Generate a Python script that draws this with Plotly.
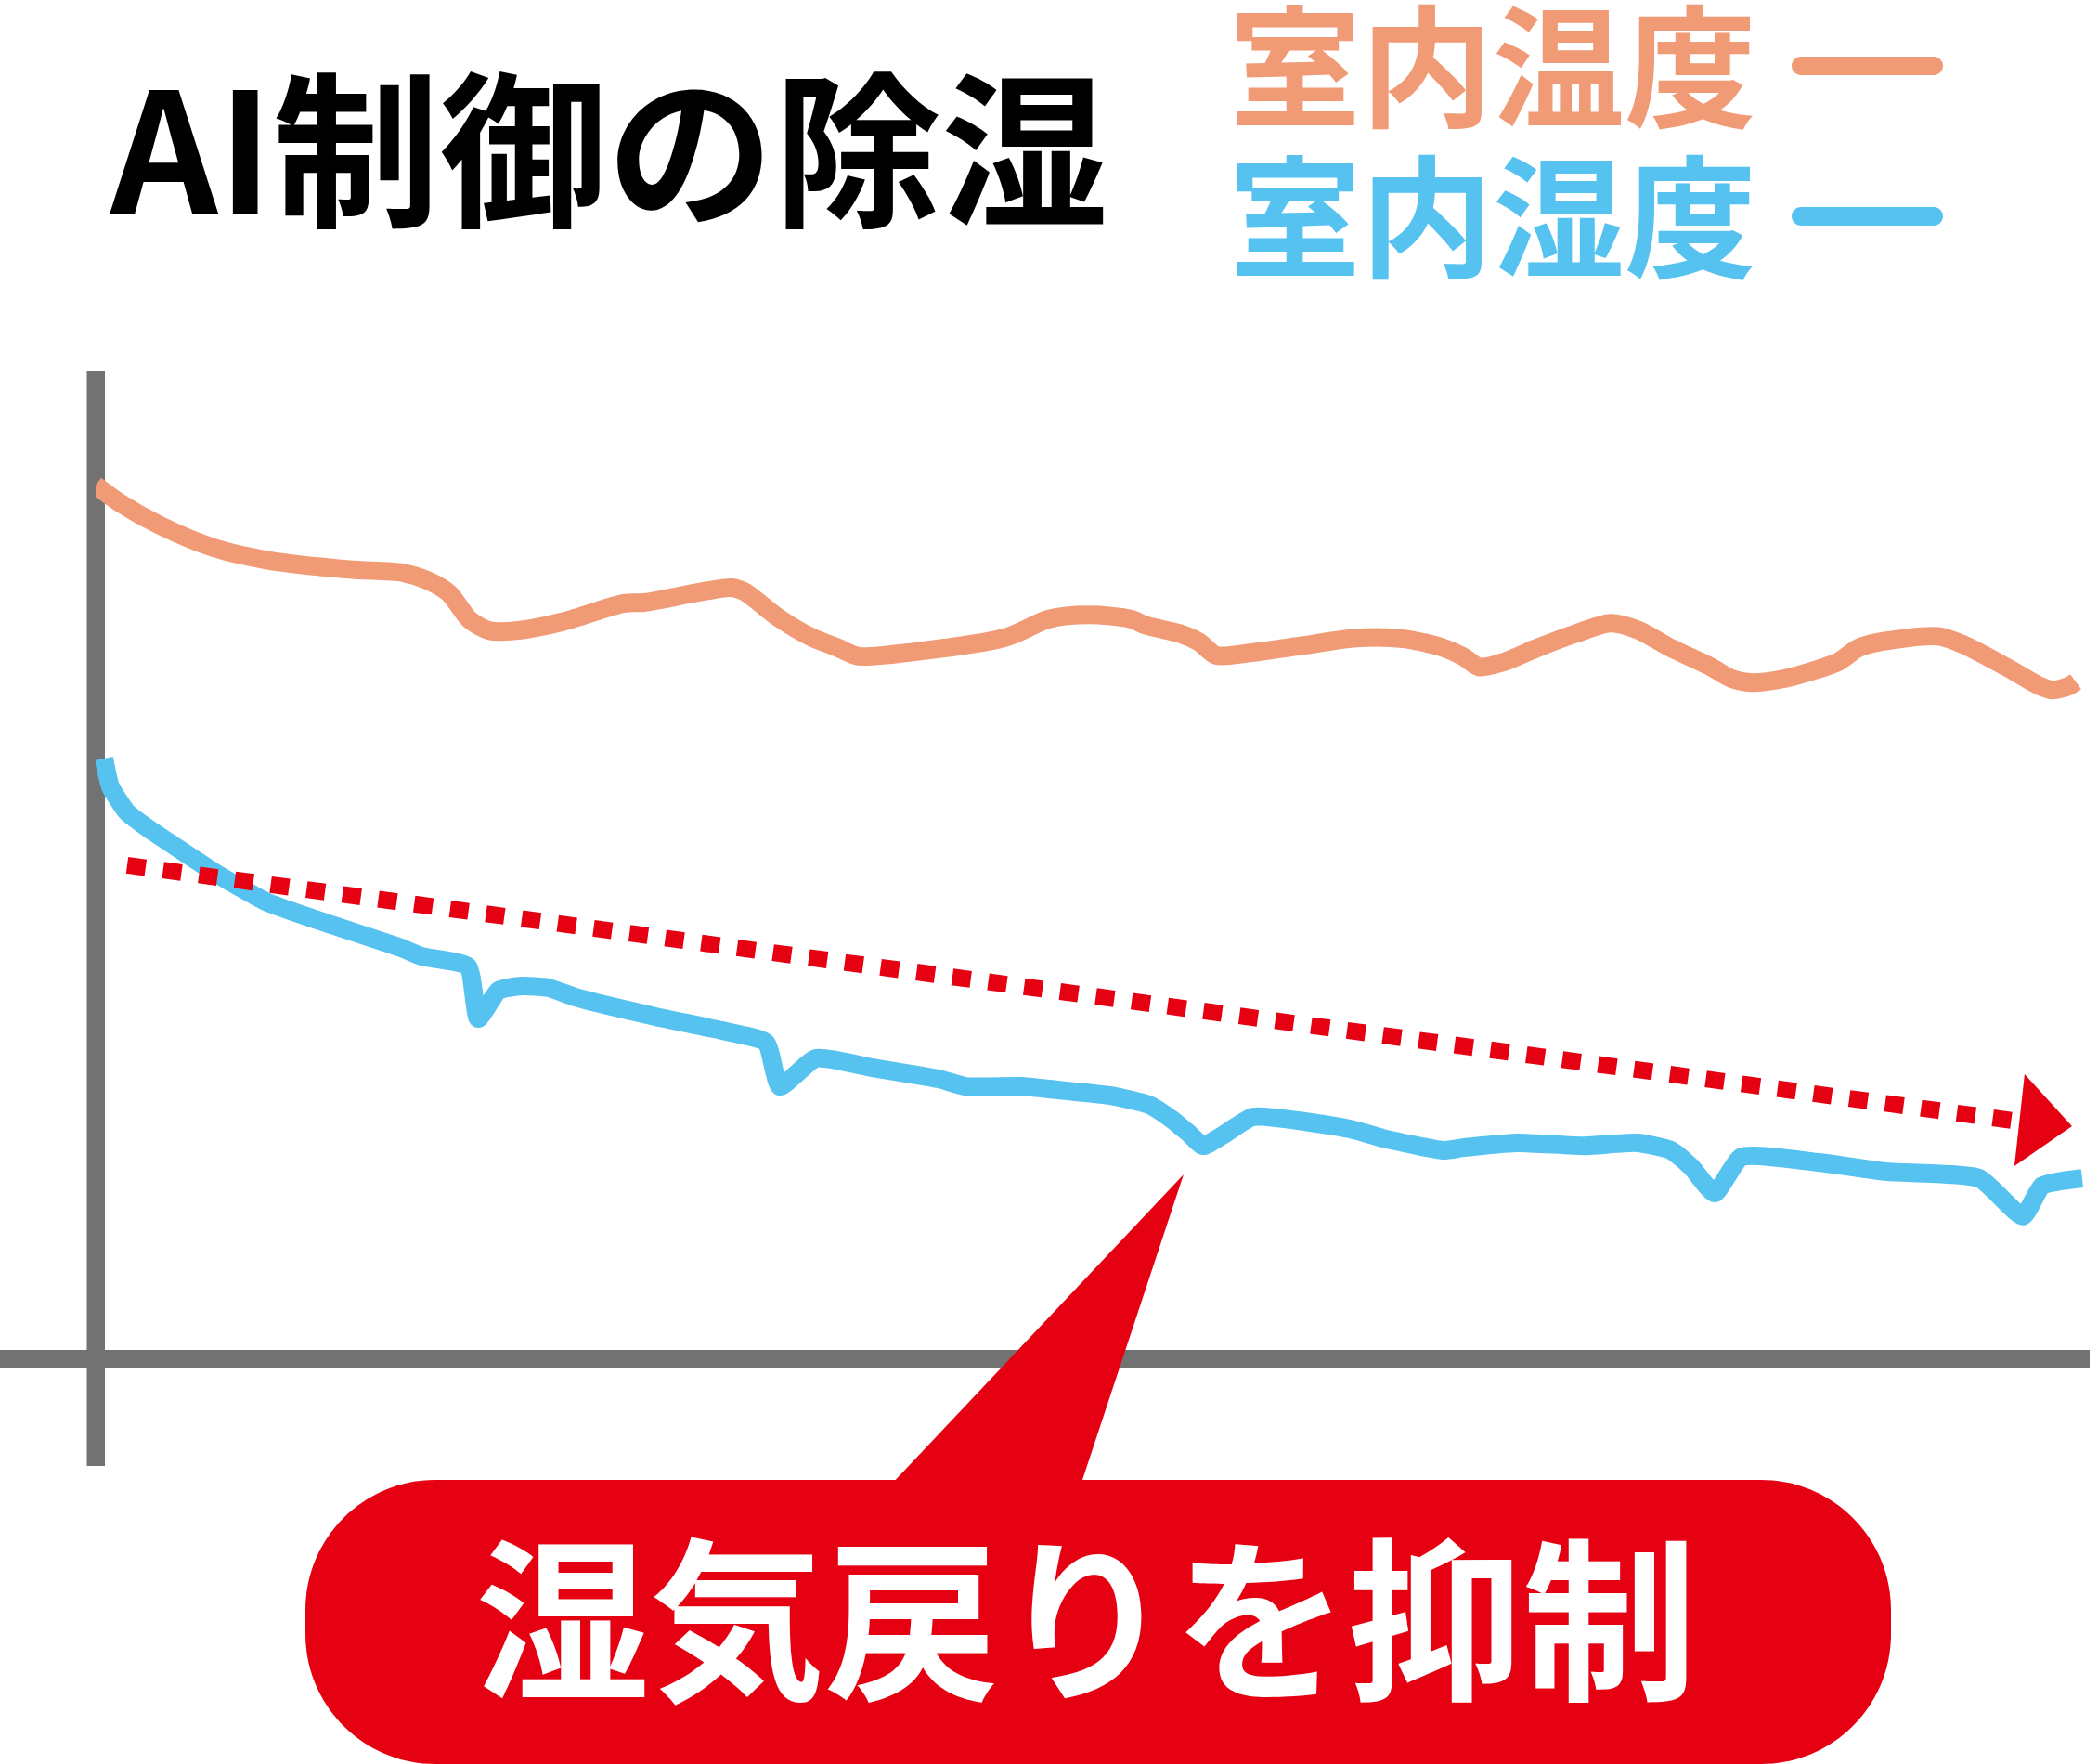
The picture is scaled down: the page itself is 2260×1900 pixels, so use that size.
import plotly.graph_objects as go

# tiempo en minutos desde el inicio del control
tiempoTemperatura = [0.00, 1.51, 3.91, 7.15, 10.39, 15.25, 18.49, 20.06, 21.28, 22.51,
                     23.69, 25.31, 28.16, 31.79, 33.02, 38.27, 39.05, 41.06, 43.07, 44.69,
                     45.92, 49.16, 54.80, 57.37, 59.78, 62.29, 63.24, 65.31, 66.42, 67.43,
                     69.44, 72.68, 75.87, 78.71, 81.12, 82.35, 83.24, 84.75, 86.76, 89.16,
                     91.17, 92.79, 94.80, 97.21, 98.44, 99.66, 101.68, 103.30, 104.86, 106.09,
                     107.32, 110.89, 112.51, 114.97, 116.98, 117.77, 118.77, 119.16]
temperatura = [30.62, 30.40, 30.13, 29.86, 29.71, 29.60, 29.56, 29.46, 29.31, 28.99,
               28.86, 28.86, 28.97, 29.19, 29.20, 29.38, 29.33, 29.02, 28.78, 28.65,
               28.55, 28.60, 28.78, 29.00, 29.05, 29.00, 28.92, 28.82, 28.72, 28.56,
               28.59, 28.68, 28.77, 28.76, 28.65, 28.54, 28.42, 28.48, 28.65, 28.83,
               28.95, 28.87, 28.65, 28.42, 28.28, 28.23, 28.28, 28.37, 28.48, 28.65,
               28.72, 28.79, 28.68, 28.42, 28.19, 28.14, 28.19, 28.24]

tiempoHumedad = [0.50, 0.89, 1.90, 3.07, 5.14, 7.54, 10.34, 13.18, 18.38, 19.61,
                 22.40, 23.02, 24.25, 25.64, 27.26, 28.88, 33.69, 37.71, 40.34, 41.17,
                 43.35, 46.76, 50.73, 52.35, 55.70, 57.37, 61.01, 63.41, 64.80, 65.81,
                 66.65, 67.82, 69.66, 75.48, 77.49, 81.12, 82.35, 85.53, 89.61, 92.79,
                 94.80, 96.03, 97.43, 99.05, 103.69, 107.71, 113.35, 115.98, 117.15, 119.55]
humedad = [64.37, 63.24, 62.19, 61.59, 60.66, 59.61, 58.56, 57.88, 56.72, 56.38,
           55.97, 53.87, 55.00, 55.18, 55.11, 54.73, 53.95, 53.38, 52.90, 51.13,
           52.26, 51.88, 51.43, 51.13, 51.13, 51.02, 50.76, 50.38, 49.78, 49.22,
           48.73, 49.15, 49.90, 49.41, 49.03, 48.55, 48.66, 48.85, 48.73, 48.85,
           48.55, 47.87, 46.82, 48.28, 48.06, 47.69, 47.42, 45.89, 47.12, 47.42]

# tendencia de la humedad (linea punteada roja)
tiempoTendencia = [1.90, 115.36]
tendencia = [60.06, 49.75]

rangoTiempo = [0, 120]
rangoTemperatura = [20, 32]
rangoHumedad = [40, 80]

titulo = "AI制御の除湿"
etiquetaTemperatura = "室内温度"
etiquetaHumedad = "室内湿度"
textoGlobo = "湿気戻りを抑制"

ANCHO = 2260
ALTO = 1900

NARANJA = "#F19B76"
AZUL = "#56C2EF"
ROJO = "#E50012"
GRIS = "#727272"
FUENTE = "Noto Sans CJK JP"


def PX(x):
    return x / ANCHO


def PY(y):
    return 1 - y / ALTO


def RutaRedondeada(x0, y0, x1, y1, r):

    # rectangulo con esquinas redondeadas, medidas en pixeles de la imagen
    k = 0.5523 * r
    puntos = [
        ("M", [(x0 + r, y0)]),
        ("L", [(x1 - r, y0)]),
        ("C", [(x1 - r + k, y0), (x1, y0 + r - k), (x1, y0 + r)]),
        ("L", [(x1, y1 - r)]),
        ("C", [(x1, y1 - r + k), (x1 - r + k, y1), (x1 - r, y1)]),
        ("L", [(x0 + r, y1)]),
        ("C", [(x0 + r - k, y1), (x0, y1 - r + k), (x0, y1 - r)]),
        ("L", [(x0, y0 + r)]),
        ("C", [(x0, y0 + r - k), (x0 + r - k, y0), (x0 + r, y0)]),
    ]
    ruta = ""
    for comando, pares in puntos:
        ruta += comando + " " + " ".join("%.5f,%.5f" % (PX(a), PY(b)) for a, b in pares) + " "
    return ruta + "Z"


def RutaPoligono(pares):

    ruta = "M " + " L ".join("%.5f,%.5f" % (PX(a), PY(b)) for a, b in pares)
    return ruta + " Z"


fig = go.Figure()

fig.add_trace(go.Scatter(x=tiempoTemperatura, y=temperatura, mode="lines",
                         line=dict(color=NARANJA, width=20, shape="spline", smoothing=0.8),
                         name=etiquetaTemperatura, yaxis="y"))

fig.add_trace(go.Scatter(x=tiempoHumedad, y=humedad, mode="lines",
                         line=dict(color=AZUL, width=20, shape="spline", smoothing=0.5),
                         name=etiquetaHumedad, yaxis="y2"))

fig.add_trace(go.Scatter(x=tiempoTendencia, y=tendencia, mode="lines",
                         line=dict(color=ROJO, width=18, dash="20px,19px"),
                         yaxis="y2"))

formas = []

# ejes dibujados a mano, como en el original
formas.append(dict(type="rect", xref="paper", yref="paper", x0=PX(93.5), x1=PX(113),
                   y0=PY(1579), y1=PY(400), fillcolor=GRIS, line=dict(width=0), layer="below"))
formas.append(dict(type="rect", xref="paper", yref="paper", x0=0, x1=PX(2251),
                   y0=PY(1474), y1=PY(1454), fillcolor=GRIS, line=dict(width=0), layer="below"))

# punta de la flecha de tendencia
formas.append(dict(type="path", xref="x", yref="y2", xsizemode="pixel", ysizemode="pixel",
                   xanchor=tiempoTendencia[-1], yanchor=tendencia[-1],
                   path="M 13,50 L 64,-6 L 2,-49 Z", fillcolor=ROJO, line=dict(width=0)))

# globo del comentario
formas.append(dict(type="path", xref="paper", yref="paper",
                   path=RutaRedondeada(329, 1594, 2037, 1900, 140),
                   fillcolor=ROJO, line=dict(width=0)))
formas.append(dict(type="path", xref="paper", yref="paper",
                   path=RutaPoligono([(959, 1600), (1275, 1265), (1164, 1600)]),
                   fillcolor=ROJO, line=dict(width=0)))

# muestras de la leyenda
formas.append(dict(type="path", xref="paper", yref="paper",
                   path=RutaRedondeada(1930, 61, 2093, 81, 10),
                   fillcolor=NARANJA, line=dict(width=0)))
formas.append(dict(type="path", xref="paper", yref="paper",
                   path=RutaRedondeada(1930, 223, 2093, 243, 10),
                   fillcolor=AZUL, line=dict(width=0)))

anotaciones = [
    dict(text=titulo, x=PX(656), y=PY(152), xanchor="center", yanchor="middle",
         font=dict(family=FUENTE, size=180, color="black", weight="bold")),
    dict(text=etiquetaTemperatura, x=PX(1322), y=PY(64), xanchor="left", yanchor="middle",
         font=dict(family=FUENTE, size=142, color=NARANJA, weight="bold")),
    dict(text=etiquetaHumedad, x=PX(1322), y=PY(226), xanchor="left", yanchor="middle",
         font=dict(family=FUENTE, size=142, color=AZUL, weight="bold")),
    dict(text=textoGlobo, x=PX(1170), y=PY(1734), xanchor="center", yanchor="middle",
         font=dict(family=FUENTE, size=188, color="white", weight="bold")),
]
for anotacion in anotaciones:
    anotacion.update(xref="paper", yref="paper", showarrow=False)

fig.update_layout(
    width=ANCHO, height=ALTO,
    margin=dict(l=0, r=0, t=0, b=0),
    paper_bgcolor="white", plot_bgcolor="white",
    showlegend=False,
    xaxis=dict(range=rangoTiempo, domain=[PX(103), PX(2251)], visible=False),
    yaxis=dict(range=rangoTemperatura, domain=[PY(1467), PY(400)], visible=False),
    yaxis2=dict(range=rangoHumedad, overlaying="y", visible=False),
    shapes=formas,
    annotations=anotaciones,
)

# sin el margen por defecto del navegador
fig.write_html("out.html", config={"displayModeBar": False},
               post_script="document.body.style.margin='0px';")
